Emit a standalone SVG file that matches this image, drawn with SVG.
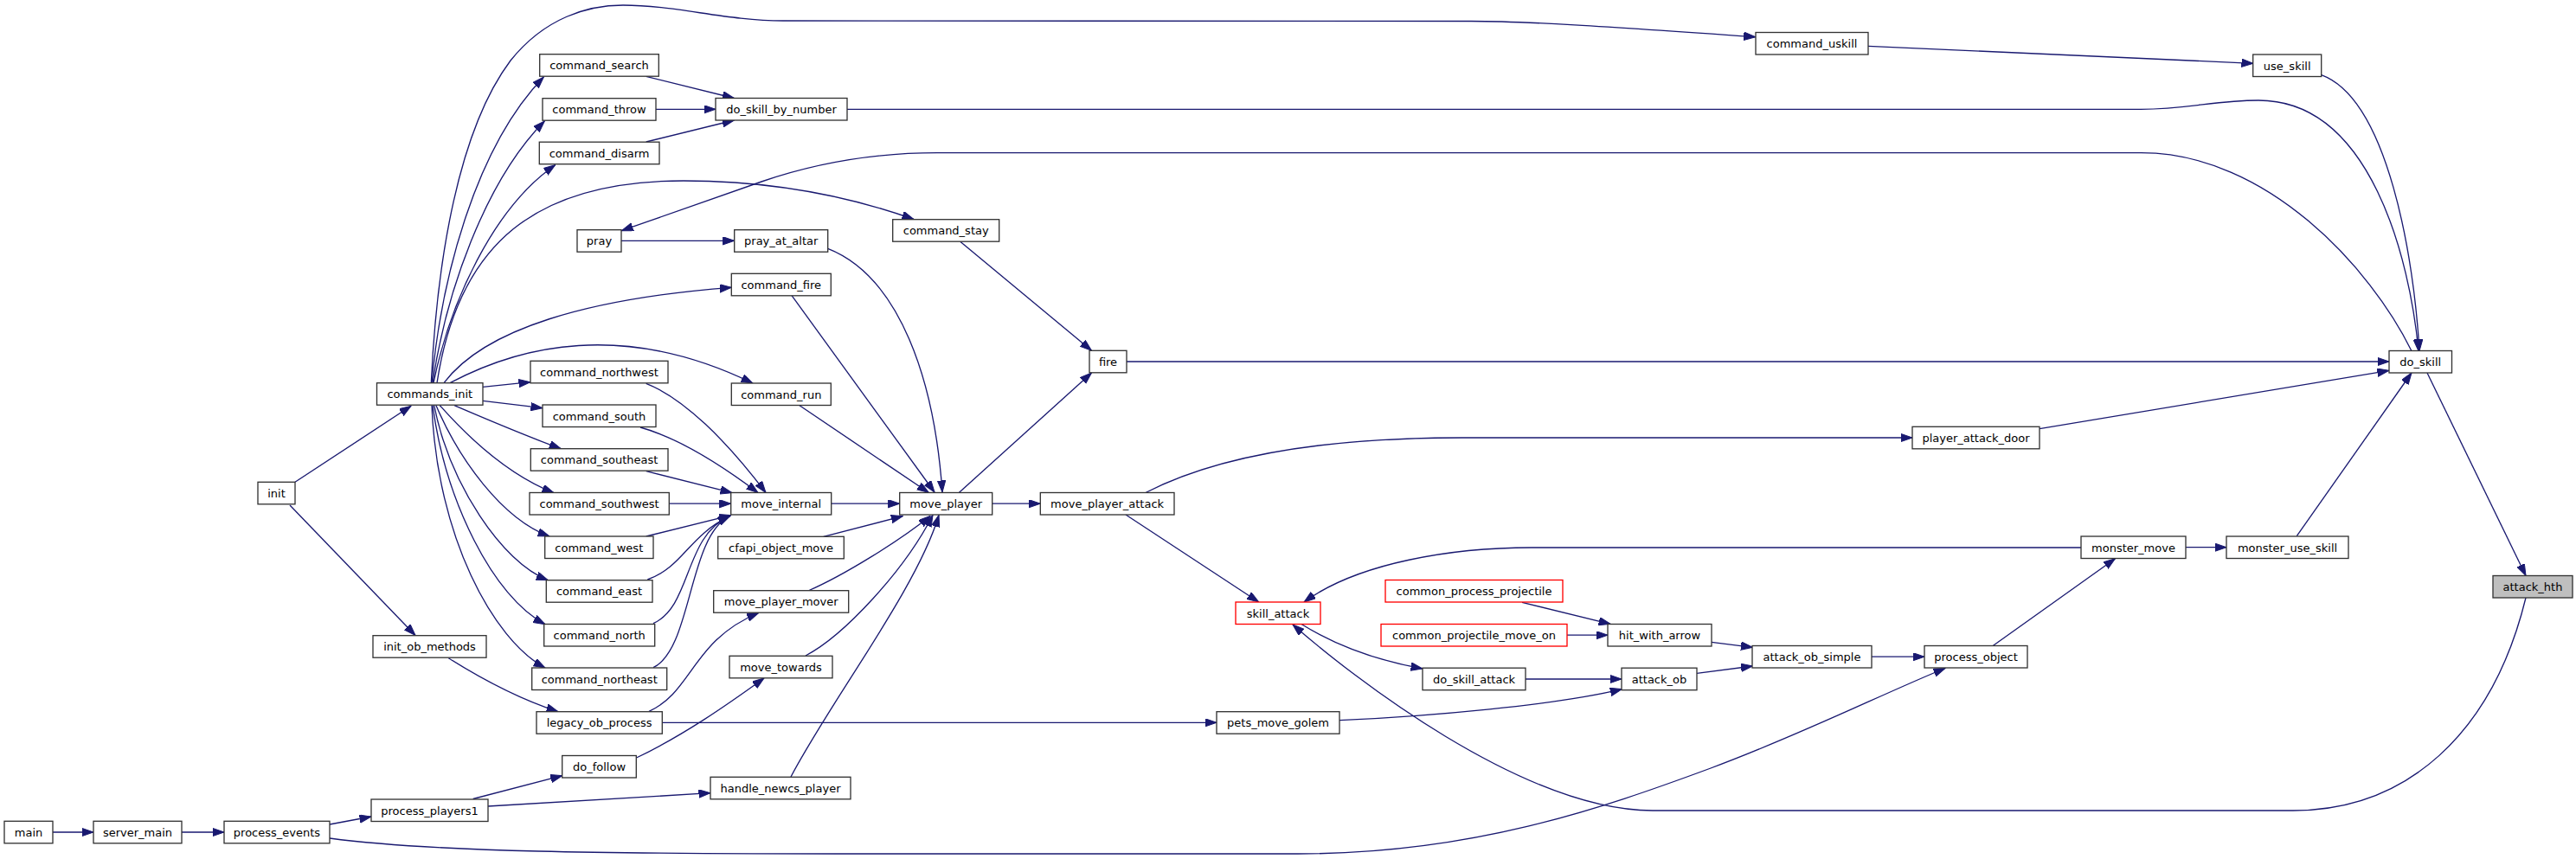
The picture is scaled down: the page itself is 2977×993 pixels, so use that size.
<svg xmlns="http://www.w3.org/2000/svg" width="2977" height="993" viewBox="0 0 2977 993">
<style>
.n rect{fill:#fff;stroke:#333;stroke-width:1.33}
.n.r rect{stroke:#ff0000}
.n.f rect{fill:#bfbfbf}
.n text{font-family:"DejaVu Sans","Liberation Sans",sans-serif;font-size:13px;fill:#000;text-anchor:middle}
#edges path{fill:none;stroke:#191970;stroke-width:1.33;marker-end:url(#a)}
</style>
<defs>
<marker id="a" markerUnits="userSpaceOnUse" markerWidth="14" markerHeight="10" refX="13.5" refY="4.7" orient="auto">
<path d="M0,0 L13.5,4.7 L0,9.4 z" fill="#191970" stroke="#191970" stroke-width="1"/>
</marker>
</defs>
<rect width="2977" height="993" fill="#fff"/>
<g id="edges">
<path d="M61,962 L108,962"/>
<path d="M210,962 L259,962"/>
<path d="M381,953 L429,944"/>
<path d="M381,969 C 500,985 700,987 1000,987 L1500,987 C 1700,987 1850,935 1977,888 C 2080,850 2180,800 2248,772.5"/>
<path d="M546.7,923.5 L649.7,896.7"/>
<path d="M564,932 L821,916.7"/>
<path d="M735.5,876 C 790,850 840,815 883,784"/>
<path d="M914,898 C 960,810 1060,680 1085,595.5"/>
<path d="M931,758 C 975,735 1045,660 1078,595.5"/>
<path d="M935,682.5 C 975,665 1040,625 1075,596.5"/>
<path d="M951.7,620.3 L1043.3,596.7"/>
<path d="M960.7,582.2 L1039.7,582.2"/>
<path d="M923.3,468.3 L1073.3,569.5"/>
<path d="M915,341.7 L1080,569"/>
<path d="M956.7,287.3 C 1040,320 1080,440 1089,569"/>
<path d="M1109.7,279.3 L1261.5,405.3"/>
<path d="M1108.3,569.5 L1261.5,431"/>
<path d="M1146.7,582.2 L1202.3,582.2"/>
<path d="M1302,418 L2761,418"/>
<path d="M1324,569.5 C 1420,520 1560,506 1690,506 L2210,506"/>
<path d="M1301,595 L1454.7,696"/>
<path d="M2405,633 L1770,633 C 1680,633 1570,650 1507,696"/>
<path d="M2919,691 C 2880,850 2780,937 2650,937 L1910,937 C 1760,937 1560,780 1494,722"/>
<path d="M1504,721.5 C 1550,750 1600,765 1644,773"/>
<path d="M1763,785 L1874,785"/>
<path d="M1548,832.7 C 1650,828 1800,815 1874.4,796.7"/>
<path d="M1759,696.3 L1861,721.3"/>
<path d="M1811,734.2 L1858,734.2"/>
<path d="M1978,742.3 L2025.5,748.3"/>
<path d="M1961,778.3 L2025.5,770"/>
<path d="M2163,759.2 L2224,759.2"/>
<path d="M2303.5,746.3 L2444.5,645.7"/>
<path d="M2526,632.7 L2573,632.7"/>
<path d="M2654.3,619.7 L2787,431"/>
<path d="M2357,495.7 L2761,428.3"/>
<path d="M2805,431 L2919,665.5"/>
<path d="M2682.7,86.7 C 2760,115 2790,300 2796,405.7"/>
<path d="M979,126.3 L2474,126.3 C 2530,126 2560,116 2610,116 C 2740,116 2785,300 2795,405.7"/>
<path d="M2787,405.7 C 2740,310 2620,176.7 2474.5,176.7 L1083,176.7 C 1020,176.7 950,186 880,210 L718.3,266.7"/>
<path d="M498.3,442.7 C 505,300 530,150 590,70 C 630,20 680,6 720,6 C 780,6 840,24 905,24 L1700,24.5 C 1760,24.5 1850,30 2028.7,42.7"/>
<path d="M499,442.7 C 510,320 550,170 628.3,89"/>
<path d="M500,442.7 C 515,340 560,210 629.3,140"/>
<path d="M501,442.7 C 520,350 570,240 641.7,190.7"/>
<path d="M505,442.7 C 530,280 620,209 790,209 C 900,209 990,230 1056,253.5"/>
<path d="M513,442.7 C 560,380 680,345 845.3,332.3"/>
<path d="M520,442.7 C 600,400 720,370 870,443"/>
<path d="M558,447.3 L613,441.7"/>
<path d="M558,463.3 L627,471.7"/>
<path d="M525,468.7 C 570,488 610,505 648.3,518.7"/>
<path d="M508.3,468.7 C 545,510 590,550 640,569.7"/>
<path d="M504,468.7 C 530,530 580,600 635,620"/>
<path d="M501.7,468.7 C 520,560 580,650 633.3,670.7"/>
<path d="M500,468.7 C 515,580 570,690 630,721.7"/>
<path d="M499,468.7 C 505,620 570,740 630,772"/>
<path d="M341,557.3 L475,469.3"/>
<path d="M335,584 L480,734.5"/>
<path d="M518.3,760.7 C 560,787 600,808 645,822.7"/>
<path d="M750,822.3 C 800,800 800,740 876.7,708.5"/>
<path d="M765.3,835.3 L1406,835.3"/>
<path d="M746.7,443.3 C 790,460 840,510 885,569.5"/>
<path d="M740,494 C 780,505 830,535 876,569.5"/>
<path d="M746.7,544.7 L846,569.7"/>
<path d="M773.3,582.2 L844.7,582.2"/>
<path d="M746.7,620 L845,595.7"/>
<path d="M748.3,670 C 790,655 795,620 843.3,596.7"/>
<path d="M755,720.7 C 800,700 790,620 843.3,596.7"/>
<path d="M755,771.7 C 800,750 795,620 843.3,596.7"/>
<path d="M746.7,88.3 L848.3,113.5"/>
<path d="M758,126.3 L827,126.3"/>
<path d="M746.7,164 L848.3,139"/>
<path d="M718,278.3 L848.7,278.3"/>
<path d="M2159,53.3 L2604,73.3"/>
</g>
<g id="main" class="n"><rect x="5" y="949.3" width="56" height="25.5"/><text x="33" y="966.8">main</text></g>
<g id="server_main" class="n"><rect x="108" y="949.3" width="102" height="25.5"/><text x="159" y="966.8">server_main</text></g>
<g id="process_events" class="n"><rect x="259" y="949.3" width="122" height="25.5"/><text x="320" y="966.8">process_events</text></g>
<g id="init" class="n"><rect x="298" y="557.3" width="43" height="25.5"/><text x="319.5" y="574.8">init</text></g>
<g id="commands_init" class="n"><rect x="435.5" y="442.7" width="122.5" height="25.5"/><text x="496.8" y="460.2">commands_init</text></g>
<g id="init_ob_methods" class="n"><rect x="431" y="734.7" width="131" height="25.5"/><text x="496.5" y="752.2">init_ob_methods</text></g>
<g id="process_players1" class="n"><rect x="429" y="924" width="135" height="25.5"/><text x="496.5" y="941.5">process_players1</text></g>
<g id="command_search" class="n"><rect x="623.7" y="62.7" width="137.6" height="25.5"/><text x="692.5" y="80.2">command_search</text></g>
<g id="command_throw" class="n"><rect x="627" y="113.7" width="131" height="25.5"/><text x="692.5" y="131.2">command_throw</text></g>
<g id="command_disarm" class="n"><rect x="623.3" y="164.2" width="138.7" height="25.5"/><text x="692.6" y="181.7">command_disarm</text></g>
<g id="pray" class="n"><rect x="667" y="265.7" width="51" height="25.5"/><text x="692.5" y="283.2">pray</text></g>
<g id="command_northwest" class="n"><rect x="613" y="417.3" width="159" height="25.5"/><text x="692.5" y="434.8">command_northwest</text></g>
<g id="command_south" class="n"><rect x="627" y="468" width="131" height="25.5"/><text x="692.5" y="485.5">command_south</text></g>
<g id="command_southeast" class="n"><rect x="613.3" y="518.7" width="158.7" height="25.5"/><text x="692.6" y="536.2">command_southeast</text></g>
<g id="command_southwest" class="n"><rect x="612" y="569.5" width="161.3" height="25.5"/><text x="692.6" y="587">command_southwest</text></g>
<g id="command_west" class="n"><rect x="629.7" y="620" width="125.3" height="25.5"/><text x="692.3" y="637.5">command_west</text></g>
<g id="command_east" class="n"><rect x="631.3" y="670.7" width="122.7" height="25.5"/><text x="692.6" y="688.2">command_east</text></g>
<g id="command_north" class="n"><rect x="628.7" y="721.5" width="128" height="25.5"/><text x="692.7" y="739">command_north</text></g>
<g id="command_northeast" class="n"><rect x="614.7" y="772" width="156" height="25.5"/><text x="692.7" y="789.5">command_northeast</text></g>
<g id="legacy_ob_process" class="n"><rect x="620" y="822.7" width="145.3" height="25.5"/><text x="692.6" y="840.2">legacy_ob_process</text></g>
<g id="do_follow" class="n"><rect x="649.7" y="873.5" width="85.6" height="25.5"/><text x="692.5" y="891">do_follow</text></g>
<g id="do_skill_by_number" class="n"><rect x="827" y="113.5" width="152" height="25.5"/><text x="903" y="131">do_skill_by_number</text></g>
<g id="pray_at_altar" class="n"><rect x="848.7" y="265.7" width="108" height="25.5"/><text x="902.7" y="283.2">pray_at_altar</text></g>
<g id="command_fire" class="n"><rect x="845.3" y="316.3" width="115" height="25.5"/><text x="902.8" y="333.8">command_fire</text></g>
<g id="command_run" class="n"><rect x="845.3" y="443" width="115" height="25.5"/><text x="902.8" y="460.5">command_run</text></g>
<g id="move_internal" class="n"><rect x="844.7" y="569.5" width="116" height="25.5"/><text x="902.7" y="587">move_internal</text></g>
<g id="cfapi_object_move" class="n"><rect x="829.7" y="620.3" width="145.6" height="25.5"/><text x="902.5" y="637.8">cfapi_object_move</text></g>
<g id="move_player_mover" class="n"><rect x="824.7" y="682.7" width="156" height="25.5"/><text x="902.7" y="700.2">move_player_mover</text></g>
<g id="move_towards" class="n"><rect x="843" y="758.3" width="119" height="25.5"/><text x="902.5" y="775.8">move_towards</text></g>
<g id="handle_newcs_player" class="n"><rect x="821" y="898.3" width="162" height="25.5"/><text x="902" y="915.8">handle_newcs_player</text></g>
<g id="command_stay" class="n"><rect x="1031.7" y="253.7" width="123" height="25.5"/><text x="1093.2" y="271.2">command_stay</text></g>
<g id="fire" class="n"><rect x="1259" y="405.3" width="43" height="25.5"/><text x="1280.5" y="422.8">fire</text></g>
<g id="move_player" class="n"><rect x="1039.7" y="569.5" width="107" height="25.5"/><text x="1093.2" y="587">move_player</text></g>
<g id="move_player_attack" class="n"><rect x="1202.3" y="569.5" width="154.7" height="25.5"/><text x="1279.6" y="587">move_player_attack</text></g>
<g id="skill_attack" class="n r"><rect x="1428" y="696" width="98" height="25.5"/><text x="1477" y="713.5">skill_attack</text></g>
<g id="pets_move_golem" class="n"><rect x="1406" y="822.7" width="142" height="25.5"/><text x="1477" y="840.2">pets_move_golem</text></g>
<g id="common_process_projectile" class="n r"><rect x="1601" y="670.5" width="205" height="25.5"/><text x="1703.5" y="688">common_process_projectile</text></g>
<g id="common_projectile_move_on" class="n r"><rect x="1596" y="721.5" width="215" height="25.5"/><text x="1703.5" y="739">common_projectile_move_on</text></g>
<g id="do_skill_attack" class="n"><rect x="1644" y="772.2" width="119" height="25.5"/><text x="1703.5" y="789.7">do_skill_attack</text></g>
<g id="hit_with_arrow" class="n"><rect x="1858" y="721.5" width="120" height="25.5"/><text x="1918" y="739">hit_with_arrow</text></g>
<g id="attack_ob" class="n"><rect x="1874" y="772.2" width="87" height="25.5"/><text x="1917.5" y="789.7">attack_ob</text></g>
<g id="command_uskill" class="n"><rect x="2029" y="37.5" width="130" height="25.5"/><text x="2094" y="55">command_uskill</text></g>
<g id="attack_ob_simple" class="n"><rect x="2025" y="746.5" width="138" height="25.5"/><text x="2094" y="764">attack_ob_simple</text></g>
<g id="player_attack_door" class="n"><rect x="2210" y="493.3" width="147" height="25.5"/><text x="2283.5" y="510.8">player_attack_door</text></g>
<g id="process_object" class="n"><rect x="2224" y="746.5" width="119" height="25.5"/><text x="2283.5" y="764">process_object</text></g>
<g id="monster_move" class="n"><rect x="2405" y="620" width="121" height="25.5"/><text x="2465.5" y="637.5">monster_move</text></g>
<g id="monster_use_skill" class="n"><rect x="2573" y="620" width="141" height="25.5"/><text x="2643.5" y="637.5">monster_use_skill</text></g>
<g id="use_skill" class="n"><rect x="2603.7" y="63" width="79" height="25.5"/><text x="2643.2" y="80.5">use_skill</text></g>
<g id="do_skill" class="n"><rect x="2761" y="405.5" width="72.5" height="25.5"/><text x="2797.2" y="423">do_skill</text></g>
<g id="attack_hth" class="n f"><rect x="2881" y="665.5" width="92" height="25.5"/><text x="2927" y="683">attack_hth</text></g>
</svg>
